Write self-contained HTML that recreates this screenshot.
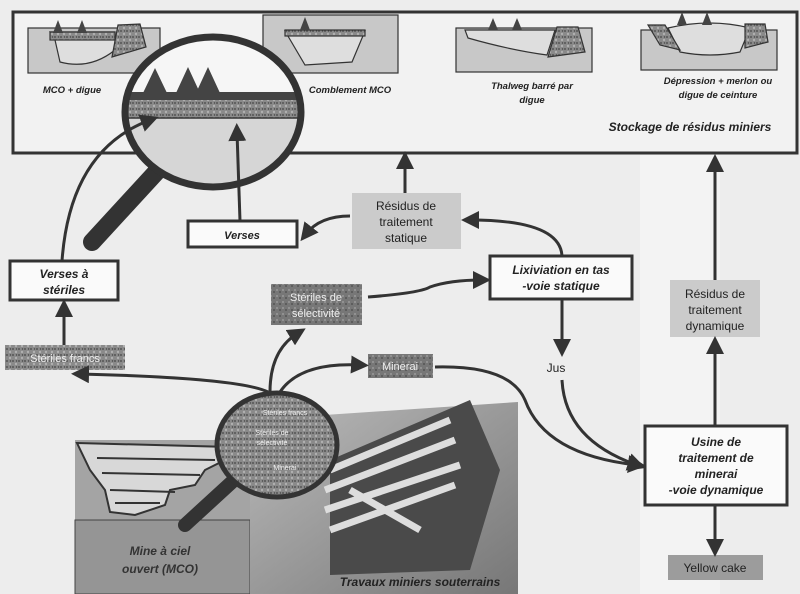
<!DOCTYPE html>
<html><head><meta charset="utf-8"><style>
html,body{margin:0;padding:0;background:#ececec;}
svg{display:block;}
text{font-family:"Comic Sans MS","Liberation Sans",sans-serif;}
.it{font-style:italic;font-weight:bold;}
</style></head><body>
<svg width="800" height="594" viewBox="0 0 800 594" xmlns="http://www.w3.org/2000/svg">
<defs>
<marker id="ar" markerWidth="6" markerHeight="6" refX="3" refY="3" orient="auto" markerUnits="strokeWidth">
<path d="M0,0 L6,3 L0,6 z" fill="#333"/></marker>
<pattern id="tx" width="6" height="6" patternUnits="userSpaceOnUse">
<rect width="6" height="6" fill="#8a8a8a"/><circle cx="1" cy="1" r="1" fill="#555"/><circle cx="4" cy="4" r="1.2" fill="#b0b0b0"/><circle cx="4.5" cy="1" r=".7" fill="#444"/></pattern>
<pattern id="tx2" width="6" height="6" patternUnits="userSpaceOnUse">
<rect width="6" height="6" fill="#777"/><circle cx="1" cy="2" r="1" fill="#999"/><circle cx="4" cy="4" r="1" fill="#555"/></pattern>
<linearGradient id="ug" x1="0" y1="0" x2="1" y2="1"><stop offset="0" stop-color="#bbb"/><stop offset="1" stop-color="#777"/></linearGradient>
</defs>
<rect width="800" height="594" fill="#ededed"/>
<rect x="640" y="155" width="80" height="439" fill="#f3f3f3"/>
<!-- top box -->
<rect x="13" y="12" width="784" height="141" fill="#f2f2f2" stroke="#333" stroke-width="3"/>
<!-- thumbnails -->
<g stroke="#333" stroke-width="1.2">
<rect x="28" y="28" width="132" height="45" fill="#c8c8c8"/>
<path d="M50,32 L115,32 L115,50 Q90,70 60,62 L55,40 Z" fill="#dedede"/>
<rect x="50" y="32" width="65" height="8" fill="url(#tx)"/>
<path d="M118,25 L140,24 L146,47 L112,57 Z" fill="url(#tx)"/>
<rect x="263" y="15" width="135" height="58" fill="#c8c8c8"/>
<path d="M285,31 L365,31 L352,62 L305,65 Z" fill="#dedede"/>
<rect x="285" y="30" width="80" height="6" fill="url(#tx)"/>
<rect x="456" y="28" width="136" height="44" fill="#c8c8c8"/>
<path d="M465,30 L555,30 L547,55 Q510,50 468,38 Z" fill="#dedede"/>
<path d="M557,27 L578,27 L585,52 L548,57 Z" fill="url(#tx)"/>
<rect x="641" y="30" width="136" height="40" fill="#c8c8c8"/>
<path d="M668,28 Q710,18 750,28 L740,52 Q710,58 680,52 Z" fill="#dedede"/>
<path d="M648,25 L665,25 L680,50 L660,45 Z" fill="url(#tx)"/>
<path d="M745,24 L765,24 L768,42 L745,48 Z" fill="url(#tx)"/>
</g>
<g fill="#444">
<path d="M58,20 l5,13 h-10z M82,20 l5,13 h-10z M305,17 l5,13 h-10z M493,18 l5,12 h-10z M517,18 l5,12 h-10z M682,12 l5,13 h-10z M707,12 l5,13 h-10z"/>
</g>
<g class="it" font-size="9.5" fill="#222" text-anchor="middle">
<text x="72" y="93">MCO + digue</text>
<text x="350" y="93">Comblement MCO</text>
<text x="532" y="89">Thalweg barré par</text><text x="532" y="103">digue</text>
<text x="718" y="84">Dépression + merlon ou</text><text x="718" y="98">digue de ceinture</text>
<text x="690" y="131" font-size="12">Stockage de résidus miniers</text>
</g>
<!-- magnifier top -->
<path d="M160,168 L92,242" stroke="#333" stroke-width="18" stroke-linecap="round"/>
<clipPath id="c1"><ellipse cx="213" cy="112" rx="88" ry="75"/></clipPath>
<g clip-path="url(#c1)">
<rect x="120" y="35" width="190" height="160" fill="#d6d6d6"/>
<rect x="120" y="35" width="190" height="58" fill="#f6f6f6"/>
<rect x="120" y="92" width="190" height="8" fill="#444"/>
<rect x="120" y="100" width="190" height="18" fill="url(#tx)"/>
<line x1="120" y1="118" x2="310" y2="118" stroke="#333" stroke-width="1.5"/>
<path d="M155,68 l12,25 h-24z M188,67 l12,26 h-24z M208,67 l12,26 h-24z" fill="#444"/>
</g>
<ellipse cx="213" cy="112" rx="88" ry="75" fill="none" stroke="#333" stroke-width="7"/>
<!-- boxes -->
<g fill="#fafafa" stroke="#333" stroke-width="3">
<rect x="10" y="261" width="108" height="39"/>
<rect x="188" y="221" width="109" height="26"/>
<rect x="490" y="256" width="142" height="43"/>
<rect x="645" y="426" width="142" height="79"/>
</g>
<rect x="352" y="193" width="109" height="56" fill="#cbcbcb"/>
<rect x="670" y="280" width="90" height="57" fill="#cbcbcb"/>
<rect x="668" y="555" width="95" height="25" fill="#9c9c9c"/>
<rect x="271" y="284" width="91" height="41" fill="url(#tx2)"/>
<rect x="5" y="345" width="120" height="25" fill="url(#tx)"/>
<rect x="368" y="354" width="65" height="24" fill="url(#tx2)"/>
<g text-anchor="middle" fill="#222">
<text class="it" x="64" y="278" font-size="12">Verses à</text>
<text class="it" x="64" y="294" font-size="12">stériles</text>
<text class="it" x="242" y="239" font-size="11">Verses</text>
<text class="it" x="561" y="274" font-size="12">Lixiviation en tas</text>
<text class="it" x="561" y="290" font-size="12">-voie statique</text>
<text class="it" x="716" y="446" font-size="12">Usine de</text>
<text class="it" x="716" y="462" font-size="12">traitement de</text>
<text class="it" x="716" y="478" font-size="12">minerai</text>
<text class="it" x="716" y="494" font-size="12">-voie dynamique</text>
<text x="406" y="210" font-size="12">Résidus de</text>
<text x="406" y="226" font-size="12">traitement</text>
<text x="406" y="242" font-size="12">statique</text>
<text x="715" y="298" font-size="12">Résidus de</text>
<text x="715" y="314" font-size="12">traitement</text>
<text x="715" y="330" font-size="12">dynamique</text>
<text x="715" y="572" font-size="12">Yellow cake</text>
<text x="556" y="372" font-size="12">Jus</text>
<g fill="#eee" font-size="11">
<text x="316" y="301">Stériles de</text><text x="316" y="317">sélectivité</text>
<text x="65" y="362">Stériles francs</text>
<text x="400" y="370">Minerai</text></g>
</g>
<!-- connectors -->
<g fill="none" stroke="#333" stroke-width="3" marker-end="url(#ar)">
<path d="M405,193 L405,160"/>
<path d="M715,280 L715,163"/>
<path d="M350,216 Q320,216 306,234"/>
<path d="M562,256 Q560,220 470,220"/>
<path d="M368,297 Q420,293 430,287 Q450,280 482,280"/>
<path d="M562,300 L562,348"/>
<path d="M715,426 L715,345"/>
<path d="M715,505 L715,548"/>
<path d="M64,345 L64,308"/>
<path d="M240,221 L237,132"/>
<path d="M62,261 Q70,150 150,120"/>
<path d="M268,392 Q240,378 80,374"/>
<path d="M270,392 Q270,350 298,333"/>
<path d="M280,392 Q300,362 360,365"/>
<path d="M435,367 Q510,365 525,400 Q545,455 637,465"/>
<path d="M562,380 Q565,440 637,465"/>
</g>
<!-- bottom illustration -->
<rect x="75" y="440" width="175" height="154" fill="#a4a4a4"/>
<rect x="75" y="520" width="175" height="74" fill="#959595" stroke="#444" stroke-width="1"/>
<path d="M77,443 L230,447 L225,460 L205,470 L195,485 L170,490 L165,505 L135,515 L110,512 L105,490 L90,470 Z" fill="#d8d8d8" stroke="#333" stroke-width="2"/>
<path d="M97,458 L215,460 M102,473 L200,475 M110,490 L175,492 M115,503 L160,503" stroke="#333" stroke-width="2"/>
<path d="M250,420 L518,402 L518,594 L250,594 Z" fill="url(#ug)"/>
<path d="M330,460 L470,400 L500,470 L470,570 L330,575 Z" fill="#4a4a4a"/>
<g stroke="#ddd" stroke-width="7"><path d="M330,470 L450,420 M325,490 L455,440 M325,510 L460,465 M330,530 L455,485 M350,490 L420,530"/></g>
<path d="M245,470 L185,525" stroke="#333" stroke-width="14" stroke-linecap="round"/>
<ellipse cx="277" cy="445" rx="60" ry="52" fill="url(#tx)" stroke="#333" stroke-width="5"/>
<g fill="#eee" font-size="7" text-anchor="middle"><text x="285" y="415">Stériles francs</text><text x="272" y="435">Stériles de</text><text x="272" y="445">sélectivité</text><text x="285" y="470">Minerai</text></g>
<g class="it" font-size="12" fill="#333" text-anchor="middle">
<text x="160" y="555">Mine à ciel</text><text x="160" y="573">ouvert (MCO)</text>
<text x="420" y="586" fill="#222">Travaux miniers souterrains</text></g>
</svg>
</body></html>
